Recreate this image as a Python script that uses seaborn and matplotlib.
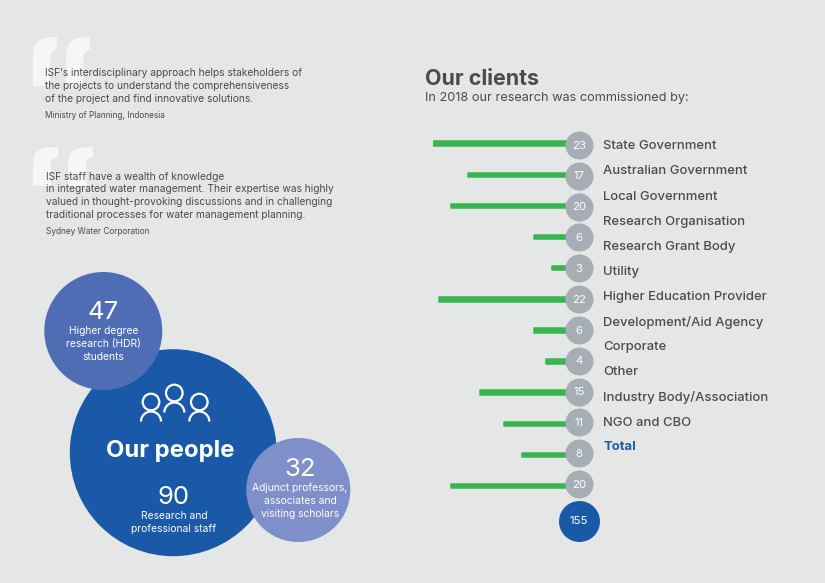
import seaborn as sns
import matplotlib.pyplot as plt
import pandas as pd
from matplotlib.patches import Circle, Arc, PathPatch
from matplotlib.path import Path

clients = ['State Government', 'Australian Government', 'Local Government', 'Research Organisation',
           'Research Grant Body', 'Utility', 'Higher Education Provider', 'Development/Aid Agency',
           'Corporate', 'Other', 'Industry Body/Association', 'NGO and CBO']
client_counts = [23, 17, 20, 6, 3, 22, 6, 4, 15, 11, 8, 20]
total_clients = 155

BG = '#e5e7e6'
TEXT = '#4a4b50'
GREEN = '#38b54e'
GREY = '#a6adb5'
BLUE = '#1a59a8'
W, H = 825, 583

sns.set_theme(style='white')
plt.rcParams['font.family'] = ['Inter', 'DejaVu Sans']

df = pd.DataFrame({'client': clients, 'count': client_counts})

fig = plt.figure(figsize=(8.25, 5.83), dpi=100, facecolor=BG)


def box(left, top, right, bottom):
    return [left / W, 1 - bottom / H, (right - left) / W, (bottom - top) / H]


# page overlay in pixel coords
page = fig.add_axes([0, 0, 1, 1])
page.set_xlim(0, W)
page.set_ylim(H, 0)
page.axis('off')


def quote_mark(x, top, w, h):
    # one half of the big quotation mark
    bx = x + w * 0.72
    verts = [(x + w, top), (x + w * 0.2, top), (x, top + h * 0.12), (x, top + h * 0.42),
             (x, top + h), (bx, top + h), (bx, top + h * 0.42),
             (bx, top + h * 0.33), (x + w * 0.85, top + h * 0.26), (x + w, top + h * 0.26), (x + w, top)]
    codes = [Path.MOVETO, Path.CURVE4, Path.CURVE4, Path.CURVE4, Path.LINETO, Path.LINETO, Path.LINETO,
             Path.CURVE4, Path.CURVE4, Path.CURVE4, Path.LINETO]
    page.add_patch(PathPatch(Path(verts, codes), fc='#f6f6f6', ec='none', zorder=1))


quote_mark(33, 37, 24, 49)
quote_mark(66, 37, 24, 49)
quote_mark(33, 147, 25, 39)
quote_mark(68, 147, 25, 39)

quote1 = ["ISF’s interdisciplinary approach helps stakeholders of",
          "the projects to understand the comprehensiveness",
          "of the project and find innovative solutions."]
quote2 = ["ISF staff have a wealth of knowledge",
          "in integrated water management. Their expertise was highly",
          "valued in thought-provoking discussions and in challenging",
          "traditional processes for water management planning."]
for i, line in enumerate(quote1):
    page.text(45, 73 + i * 12.8, line, fontsize=7.35, color=TEXT, va='center', zorder=3)
page.text(45, 115, 'Ministry of Planning, Indonesia', fontsize=5.95, color=TEXT, va='center', zorder=3)
for i, line in enumerate(quote2):
    page.text(45.5, 176.5 + i * 12.9, line, fontsize=7.35, color=TEXT, va='center', zorder=3)
page.text(45.5, 232, 'Sydney Water Corporation', fontsize=5.95, color=TEXT, va='center', zorder=3)

# people bubbles
page.add_patch(Circle((173.3, 452.7), 103.5, fc=BLUE, ec='none', zorder=2))
page.add_patch(Circle((103.3, 331), 59, fc='#4f6db5', ec='none', zorder=3))
page.add_patch(Circle((298.3, 490), 52, fc='#7f8fc9', ec='none', zorder=3))

for cx, cy, r in [(151, 402, 8.3), (174.3, 393, 8.3), (199.3, 402, 8.3)]:
    page.add_patch(Circle((cx, cy), r, fc='none', ec='white', lw=1.6, zorder=4))
    page.add_patch(Arc((cx, cy + 19.5), 20, 20, theta1=180, theta2=360, ec='white', lw=1.6, zorder=4))

page.text(170, 451, 'Our people', fontsize=17.2, fontweight='bold', color='white', ha='center', va='center', zorder=5)
page.text(174, 498, '90', fontsize=18.5, color='white', ha='center', va='center', zorder=5)
page.text(174, 516, 'Research and', fontsize=7.4, color='white', ha='center', va='center', zorder=5)
page.text(174, 529, 'professional staff', fontsize=7.4, color='white', ha='center', va='center', zorder=5)
page.text(103.5, 312.5, '47', fontsize=18.5, color='white', ha='center', va='center', zorder=5)
page.text(103.5, 331, 'Higher degree', fontsize=7.4, color='white', ha='center', va='center', zorder=5)
page.text(103.5, 344, 'research (HDR)', fontsize=7.4, color='white', ha='center', va='center', zorder=5)
page.text(103.5, 357, 'students', fontsize=7.4, color='white', ha='center', va='center', zorder=5)
page.text(300, 470, '32', fontsize=18.5, color='white', ha='center', va='center', zorder=5)
page.text(300, 488, 'Adjunct professors,', fontsize=7.4, color='white', ha='center', va='center', zorder=5)
page.text(300, 501, 'associates and', fontsize=7.4, color='white', ha='center', va='center', zorder=5)
page.text(300, 514, 'visiting scholars', fontsize=7.4, color='white', ha='center', va='center', zorder=5)

# clients heading and labels
page.text(425, 79, 'Our clients', fontsize=15.4, fontweight='bold', color=TEXT, va='center')
page.text(425, 98, 'In 2018 our research was commissioned by:', fontsize=9.15, color=TEXT, va='center')
for i, name in enumerate(clients):
    page.text(603, 146.3 + i * 25.12, name, fontsize=9.4, fontweight='medium', color=TEXT, va='center')
page.text(603, 447.3, 'Total', fontsize=9.4, fontweight='bold', color=BLUE, va='center')

# green bars, value axis runs right to left from the circles
n = len(clients)
bar_ax = fig.add_axes(box(432.7, 143.7 - 15.55, 569.7, 486 + 15.55))
bar_ax.patch.set_alpha(0)
sns.barplot(data=df, y='client', x='count', color=GREEN, width=4.5 / 31.1, saturation=1,
            edgecolor=GREEN, linewidth=1.1, ax=bar_ax)
for bar in bar_ax.patches:
    bar.set_joinstyle('round')
bar_ax.set_xlim(23, 0)
bar_ax.set_ylim(n - 0.5, -0.5)
bar_ax.axis('off')

# grey count circles
dot_ax = fig.add_axes(box(565, 145 - 15.4, 593, 484 + 15.4))
dot_ax.patch.set_alpha(0)
df['row'] = range(n)
df['x'] = 0
sns.scatterplot(data=df, x='x', y='row', s=(28 * 0.72) ** 2, color=GREY, linewidth=0, ax=dot_ax, legend=False, clip_on=False)
for i, c in enumerate(client_counts):
    dot_ax.text(0, i + 0.02, str(c), fontsize=8.2, color='white', ha='center', va='center')
dot_ax.set_xlim(-1, 1)
dot_ax.set_ylim(n - 0.5, -0.5)
dot_ax.axis('off')

# total bubble
total_ax = fig.add_axes(box(556, 500, 602, 541))
total_ax.patch.set_alpha(0)
sns.scatterplot(x=[0], y=[0], s=(41 * 0.72) ** 2, color=BLUE, linewidth=0, ax=total_ax, legend=False, clip_on=False)
total_ax.text(0, 0, str(total_clients), fontsize=8.2, color='white', ha='center', va='center')
total_ax.set_xlim(-1, 1)
total_ax.set_ylim(-1, 1)
total_ax.axis('off')

fig.savefig('out.png', dpi=100, facecolor=BG)
